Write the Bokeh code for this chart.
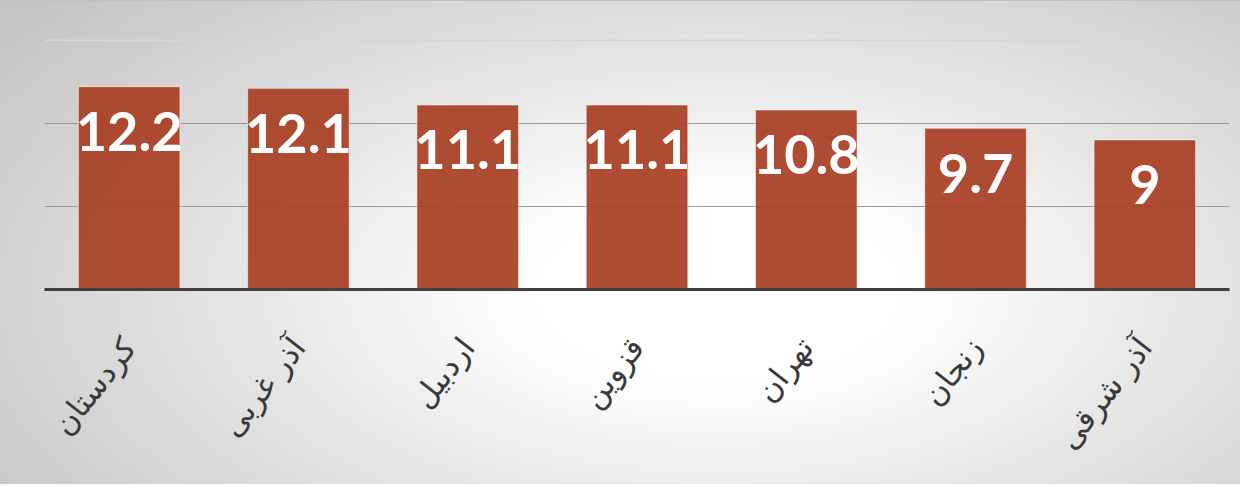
from bokeh.plotting import figure
from bokeh.models import ColumnDataSource, FixedTicker, Span, Range1d, InlineStyleSheet
from bokeh.core.properties import value
from bokeh.embed import file_html
from bokeh.resources import INLINE
import math

# ---- data ----
provinces = ["کردستان", "آذر غربی", "اردبیل", "قزوین", "تهران", "زنجان", "آذر شرقی"]
rates = [12.2, 12.1, 11.1, 11.1, 10.8, 9.7, 9]
grid_values = [5, 10]
top_value = 15

labels = [f"{v:g}" for v in rates]
src = ColumnDataSource(dict(x=provinces, y=rates, label=labels))

css = InlineStyleSheet(css="""
:host {
  background: radial-gradient(ellipse 72% 90% at 58% 60%, #ffffff 0%, #ffffff 20%, #e4e4e4 55%, #c4c4c4 100%);
  border-top: 1px solid #c0c0c0;
  box-sizing: border-box;
}
""")

p = figure(
    x_range=provinces,
    y_range=Range1d(0, 15.1),
    width=1240, height=484,
    output_backend="svg", toolbar_location=None,
    min_border_left=44, min_border_right=11, min_border_top=37, min_border_bottom=196,
)
p.stylesheets = [css]
p.background_fill_alpha = 0
p.border_fill_alpha = 0
p.outline_line_color = None

p.vbar(x="x", top="y", width=0.6, source=src,
       fill_color="#A83F23", fill_alpha=0.93,
       line_color="white", line_alpha=0.55, line_width=1)

p.text(x="x", y="y", text="label", source=src,
       text_font=value("Lato"), text_font_style="bold", text_font_size="54px",
       text_color="white", text_align="center", text_baseline="middle",
       y_offset=45)

p.add_layout(Span(location=top_value, dimension="width",
                  line_color="#d6d6d6", line_width=1.5))

p.yaxis.visible = False
p.xgrid.grid_line_color = None
p.ygrid.ticker = FixedTicker(ticks=grid_values)
p.ygrid.grid_line_color = "#9a9a9a"
p.ygrid.grid_line_width = 1

xa = p.xaxis[0]
xa.axis_line_color = "#404040"
xa.axis_line_width = 3
xa.major_tick_line_color = None
xa.minor_tick_line_color = None
xa.major_label_orientation = math.radians(52)
xa.major_label_standoff = 46
xa.major_label_text_font = "DejaVu Sans"
xa.major_label_text_font_size = "31px"
xa.major_label_text_color = "#3a3a3a"

open("out.html", "w").write(file_html(p, INLINE))
